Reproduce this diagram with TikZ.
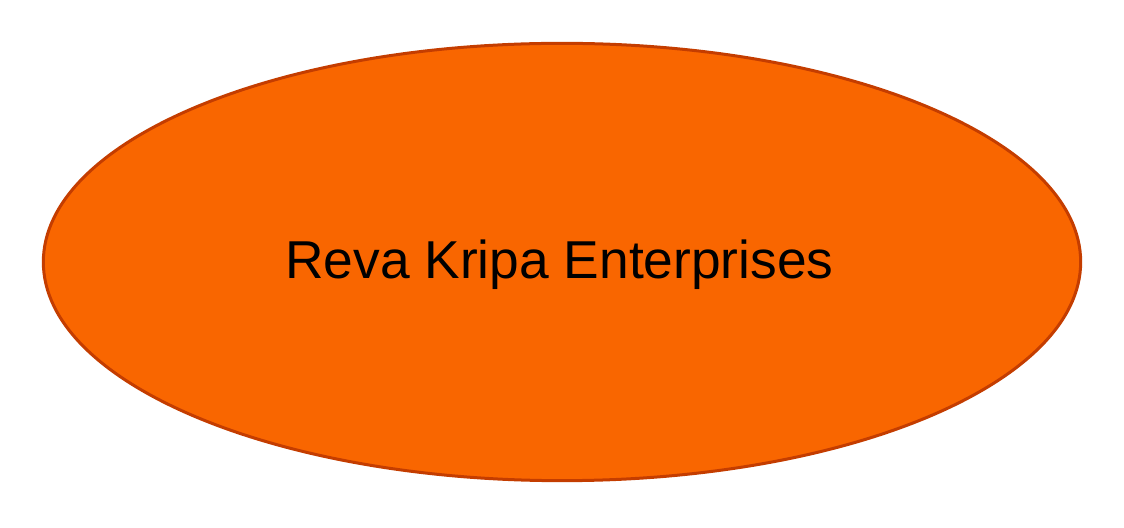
\documentclass[tikz,border=0pt]{standalone}
\usepackage{fontspec}
\setmainfont{Liberation Sans}
\usepackage{xcolor}
\usepackage{tikz}
\usetikzlibrary{shapes,positioning}
\definecolor{firmorange}{HTML}{F96600}
\definecolor{firmedge}{HTML}{C43D00}
\tikzstyle{firm} = [ellipse, draw=firmedge, fill=firmorange, line width=2.25pt, minimum width=778pt, minimum height=328pt, inner sep=0pt]
\tikzstyle{title} = [font=\fontsize{40}{48}\selectfont, text=black, inner sep=0pt]

\begin{document}
\begin{tikzpicture}[x=0.75pt, y=0.75pt]
    % Canvas
    \useasboundingbox (0,0) rectangle (1124,528);
    % Ellipse
    \node[firm] (firm) at (562,266) {};
    \node[title, anchor=base] (name) at (559.5,249) {Reva Kripa Enterprises};
\end{tikzpicture}
\end{document}
